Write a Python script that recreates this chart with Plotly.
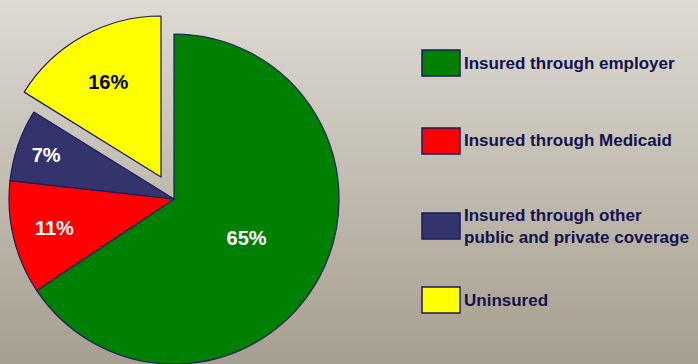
import plotly.graph_objects as go

# Health coverage shares (percent)
labels = [
    "Insured through employer",
    "Insured through Medicaid",
    "Insured through other<br>public and private coverage",
    "Uninsured",
]
values = [65, 11, 7, 16]
colors = ["#008000", "#ff0000", "#34346c", "#ffff00"]
label_colors = ["#ffffff", "#ffffff", "#ffffff", "#000000"]
exploded = [False, False, False, True]

W, H = 698, 364
edge = "#1a1a5e"
clear = "rgba(0,0,0,0)"

fig = go.Figure()

# Background: vertical gradient built from thin bands
top_rgb = (221, 218, 211)
bot_rgb = (166, 158, 142)
n_bands = 91
for i in range(n_bands):
    t = i / (n_bands - 1)
    c = tuple(round(a + (b - a) * t) for a, b in zip(top_rgb, bot_rgb))
    fig.add_shape(
        type="rect", xref="paper", yref="paper", layer="below",
        x0=0, x1=1, y0=1 - (i + 1) / n_bands - 0.002, y1=1 - i / n_bands,
        fillcolor=f"rgb{c}", line=dict(width=0),
    )


def slice_trace(show, domain):
    return go.Pie(
        labels=labels,
        values=values,
        sort=False,
        direction="clockwise",
        rotation=0,
        marker=dict(
            colors=[c if s else clear for c, s in zip(colors, show)],
            line=dict(color=[edge if s else clear for s in show],
                      width=[1.2 if s else 0 for s in show]),
        ),
        text=[f"{v}%" if s else "" for v, s in zip(values, show)],
        textinfo="text",
        textposition="inside",
        insidetextorientation="horizontal",
        textfont=dict(family="Liberation Sans, Arial, sans-serif", size=20,
                      color=label_colors, weight="bold"),
        hoverinfo="skip",
        showlegend=False,
        domain=domain,
    )


# Main pie (employer, Medicaid, other coverage)
fig.add_trace(slice_trace([not e for e in exploded],
                          dict(x=[9 / W, 339 / W], y=[0, 330 / H])))
# Exploded wedge (uninsured), offset up and to the left
fig.add_trace(slice_trace(exploded,
                          dict(x=[0, 322 / W], y=[21 / H, 353 / H])))

# Legend: swatches and labels
legend_y = [63, 141, 226, 300]
for lab, col, yc in zip(labels, colors, legend_y):
    fig.add_shape(
        type="rect", xref="paper", yref="paper",
        x0=422 / W, x1=460 / W, y0=1 - (yc + 13) / H, y1=1 - (yc - 13) / H,
        fillcolor=col, line=dict(color=edge, width=1.5),
    )
    fig.add_annotation(
        xref="paper", yref="paper", x=462 / W, y=1 - yc / H,
        xanchor="left", yanchor="middle", align="left", showarrow=False,
        text=lab,
        font=dict(family="Liberation Sans, Arial, sans-serif",
                  size=17, color="#12124e", weight="bold"),
    )

fig.update_layout(
    width=W, height=H,
    margin=dict(l=0, r=0, t=0, b=0),
    paper_bgcolor="#cfcac0",
    plot_bgcolor="rgba(0,0,0,0)",
    showlegend=False,
)

fig.write_html("out.html", config={"displayModeBar": False})
